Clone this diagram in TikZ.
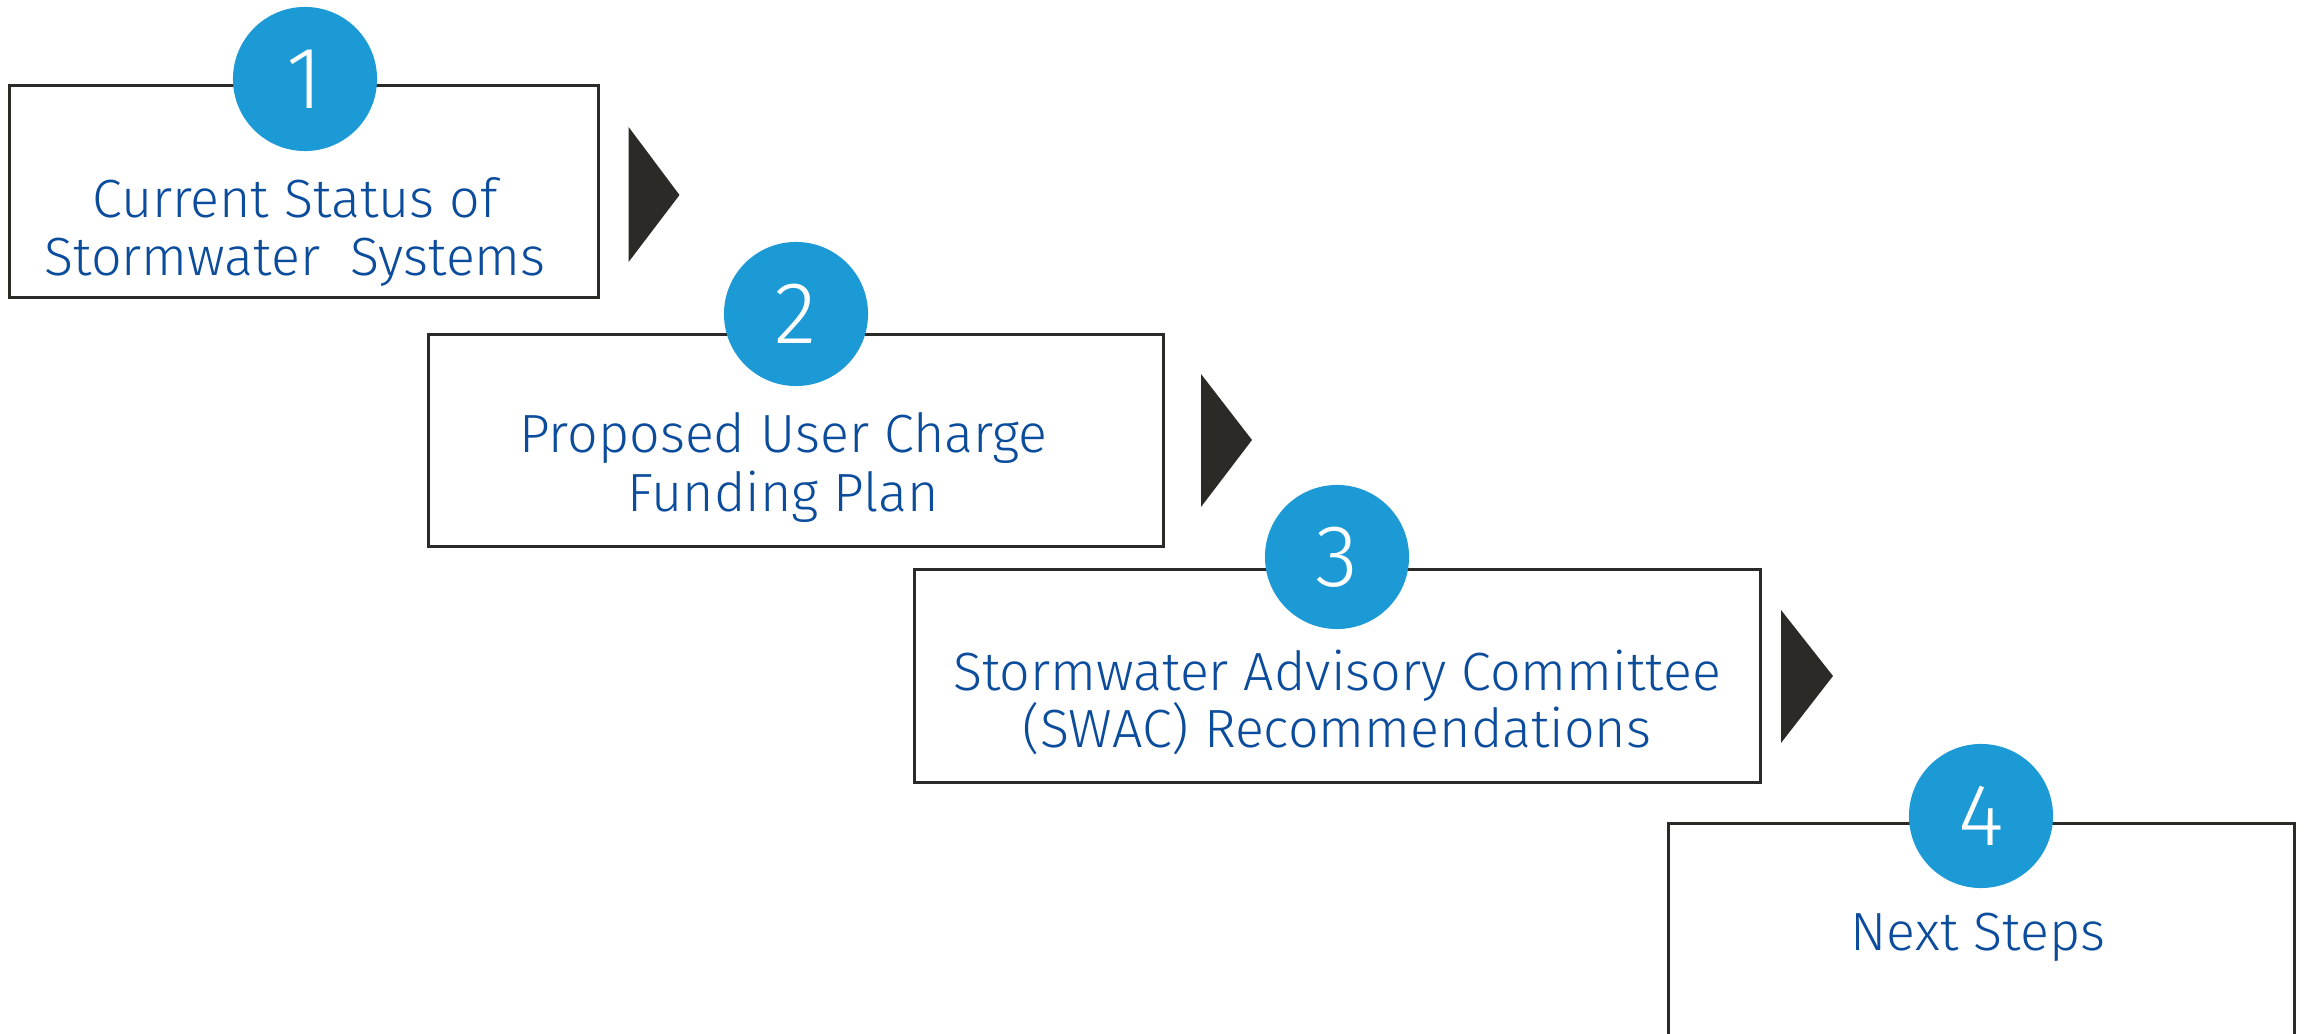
\documentclass[tikz,border=0pt]{standalone}
\usepackage{fontspec}
\setmainfont{Fira Sans}[UprightFont=* Light]
\definecolor{txtblue}{HTML}{0B4C9C}
\definecolor{circblue}{HTML}{1B9AD6}
\definecolor{darkline}{HTML}{2B2A26}
\begin{document}
\begin{tikzpicture}[x=0.01cm,y=-0.01cm,
  stepbox/.style={draw=darkline, line width=0.85pt, rectangle, inner sep=0pt, fill=white},
  numcirc/.style={circle, fill=circblue, minimum size=1.44cm, inner sep=0pt, text=white, font=\fontsize{25}{25}\selectfont},
  steptext/.style={text=txtblue, font=\fontsize{15.3}{16.8}\selectfont, anchor=base, inner sep=0pt},
  pointer/.style={fill=darkline, draw=none}
]
\clip (0,0) rectangle (2305,1034);
% boxes
\node[stepbox, minimum width=5.88cm, minimum height=2.11cm] (box1) at (304,191.5) {};
\node[stepbox, minimum width=7.34cm, minimum height=2.11cm] (box2) at (796,440.5) {};
\node[stepbox, minimum width=8.45cm, minimum height=2.12cm] (box3) at (1337.5,676) {};
\node[stepbox, minimum width=6.25cm, minimum height=2.60cm] (box4) at (1981.5,954) {};
% circles
\node[numcirc] (c1) at (305,79) {1};
\node[numcirc] (c2) at (796,314) {2};
\node[numcirc] (c3) at (1337,557) {3};
\node[numcirc] (c4) at (1981,816) {4};
% texts
\node[steptext] (t1a) at (295,218) {Current Status of};
\node[steptext] (t1b) at (295,276) {Stormwater~ Systems};
\node[steptext] (t2a) at (783.5,453) {Proposed User Charge};
\node[steptext] (t2b) at (783.5,512) {Funding Plan};
\node[steptext] (t3a) at (1337,691) {Stormwater Advisory Committee};
\node[steptext] (t3b) at (1337,748) {(SWAC) Recommendations};
\node[steptext] (t4a) at (1978,951) {Next Steps};
% pointers
\fill[pointer] (628.6,127) -- (679.5,195) -- (628.6,262) -- cycle;
\fill[pointer] (1201,374) -- (1252,440) -- (1201,507) -- cycle;
\fill[pointer] (1781,610) -- (1833,676) -- (1781,743) -- cycle;
\end{tikzpicture}
\end{document}
